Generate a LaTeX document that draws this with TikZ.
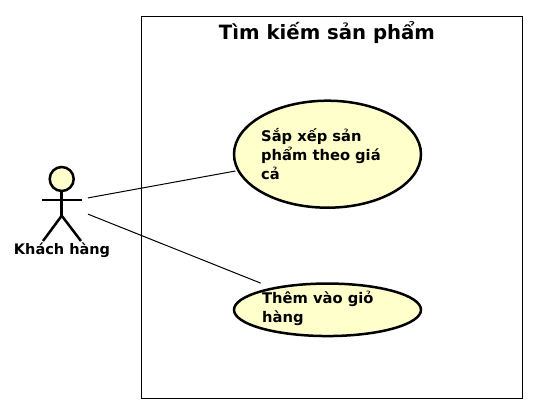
\documentclass[tikz,border=0pt]{standalone}
\usepackage{fontspec}
\setmainfont{DejaVu Sans}
\usetikzlibrary{shapes.geometric}
\definecolor{ucfill}{HTML}{FFFFCC}
\tikzset{
  x=1pt,y=-1pt,
  usecase/.style={draw=black,fill=ucfill,ellipse,line width=2.5pt,inner sep=0pt,outer sep=0pt},
  uctext/.style={anchor=north west,inner sep=0pt,align=left,font=\fontsize{14.7}{19}\bfseries\selectfont},
  link/.style={draw=black,line width=1pt},
  figure/.style={draw=black,line width=2.5pt},
}
\begin{document}
\begin{tikzpicture}
\useasboundingbox (0,0) rectangle (536,410);
\node[draw=black,line width=1pt,minimum width=381pt,minimum height=382pt,inner sep=0pt] (frame) at (331.5,207) {};
\node[font=\fontsize{19.7}{22}\bfseries\selectfont,inner sep=0pt] (title) at (327,32.5) {Tìm kiếm sản phẩm};
\node[usecase,minimum width=187pt,minimum height=107pt] (uc1) at (327.5,154.2) {};
\node[usecase,minimum width=187pt,minimum height=52.5pt] (uc2) at (327.5,309.8) {};
\node[uctext] (t1) at (261,128) {Sắp xếp sản\\phẩm theo giá\\cả};
\node[uctext] (t2) at (262,291) {Thêm vào giỏ\\hàng};
% actor
\node[draw=black,fill=ucfill,circle,line width=2.5pt,minimum size=24pt,inner sep=0pt,outer sep=0pt] (head) at (61.7,179) {};
\coordinate (armL) at (42,200);
\coordinate (armR) at (81.7,200);
\coordinate (fork) at (61.7,215.7);
\coordinate (footL) at (43,241);
\coordinate (footR) at (81,241);
\draw[figure] (head) -- (fork);
\draw[figure] (armL) -- (armR);
\draw[figure] (footL) -- (fork) -- (footR);
\node[font=\fontsize{14.5}{16}\bfseries\selectfont,inner sep=0pt] (actorlabel) at (62,250.5) {Khách hàng};
\node[minimum width=56pt,minimum height=100pt,inner sep=0pt,outer sep=0pt] (actor) at (60,203) {};
\draw[link,shorten >=3pt] (actor) -- (uc1);
\draw[link,shorten >=14pt] (actor) -- (uc2);
\end{tikzpicture}
\end{document}
